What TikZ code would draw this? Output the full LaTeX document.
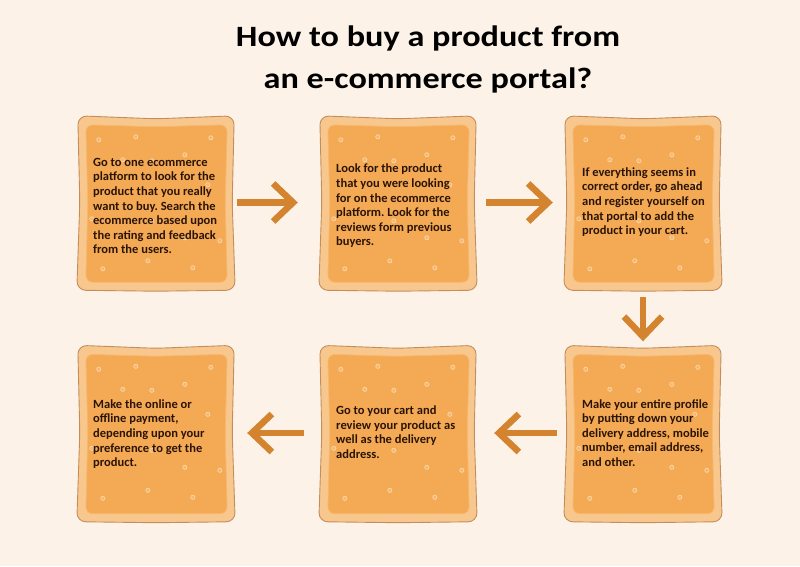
\documentclass[tikz,border=0pt]{standalone}
\usepackage{fontspec}
\setmainfont{Carlito}
\newfontfamily\titlefont[FakeStretch=1.16]{Carlito}
\newfontfamily\stepfont[FakeStretch=1.0]{Carlito}
\usetikzlibrary{arrows.meta,calc}
\definecolor{bg}{HTML}{FDF2E7}
\definecolor{crustfill}{HTML}{F8C78E}
\definecolor{crustdraw}{HTML}{C38E5C}
\definecolor{innerfill}{HTML}{F4A955}
\definecolor{innerrim}{HTML}{F7B86C}
\definecolor{bubblecol}{HTML}{FAD7A6}
\definecolor{arrowcol}{HTML}{D4832F}
\definecolor{txt}{HTML}{2A1405}
\tikzset{
  toastbox/.style={minimum width=158pt, minimum height=175pt, inner sep=0pt, draw=none},
  crust/.style={fill=crustfill, draw=crustdraw, line width=0.9pt, rounded corners=9pt},
  crumb/.style={fill=innerfill, draw=innerrim, line width=0.8pt, rounded corners=7pt},
  bubble/.style={draw=bubblecol, line width=0.7pt, fill=innerfill!85!white},
  steptext/.style={anchor=west, align=left, font=\stepfont\bfseries\fontsize{12.5}{14.6}\selectfont\frenchspacing, text=txt, inner sep=0pt},
  titletext/.style={align=center, font=\titlefont\bfseries\fontsize{29.5}{42}\selectfont, text=black, inner sep=0pt},
  flow/.style={draw=arrowcol, line width=6.5pt, -{Straight Barb[length=20pt,width=38pt]}},
}
\newcommand\toast[1]{%
  \path[crust] ([shift={(1,1)}]#1.north west) -- ([shift={(0,4)}]#1.north) -- ([shift={(-1,1)}]#1.north east)
     -- ([shift={(-3,0)}]#1.east) -- (#1.south east) -- ([shift={(0,1)}]#1.south) -- (#1.south west)
     -- ([shift={(3,0)}]#1.west) -- cycle;
  \path[crumb] ([shift={(9,10)}]#1.north west) -- ([shift={(0,12)}]#1.north) -- ([shift={(-8,10)}]#1.north east)
     -- ([shift={(-10,0)}]#1.east) -- ([shift={(-8,-8)}]#1.south east) -- ([shift={(0,-8)}]#1.south) -- ([shift={(9,-8)}]#1.south west)
     -- ([shift={(11,0)}]#1.west) -- cycle;
  \foreach \a/\b in {22/25,59/22,134/23,108/40,46/45,75/46,131/70,15/104,75/106,108/123,143/126,71/146,26/154,116/153}
    \draw[bubble] ([shift={(\a,\b)}]#1.north west) circle (2.1pt);
}
\begin{document}
\begin{tikzpicture}[x=1pt,y=-1pt]
\fill[bg] (0,0) rectangle (800,566);
\useasboundingbox (0,0) rectangle (800,566);

\node[titletext] (title) at (428,59) {How to buy a product from\\an e-commerce portal?};

\node[toastbox] (b1) at (156,202.5) {};
\node[toastbox] (b2) at (398,202.5) {};
\node[toastbox] (b3) at (643,202.5) {};
\node[toastbox, minimum height=177pt] (b4) at (643,433) {};
\node[toastbox, minimum height=177pt] (b5) at (398,433) {};
\node[toastbox, minimum height=177pt] (b6) at (156,433) {};

\toast{b1}\toast{b2}\toast{b3}\toast{b4}\toast{b5}\toast{b6}

\node[steptext] (t1) at (93,206) {Go to one ecommerce\\platform to look for the\\product that you really\\want to buy. Search the\\ecommerce based upon\\the rating and feedback\\from the users.};
\node[steptext] (t2) at (336,206) {Look for the product\\that you were looking\\for on the ecommerce\\platform. Look for the\\reviews form previous\\buyers.};
\node[steptext] (t3) at (582,202) {If everything seems in\\correct order, go ahead\\and register yourself on\\that portal to add the\\product in your cart.};
\node[steptext] (t4) at (582,433) {Make your entire profile\\by putting down your\\delivery address, mobile\\number, email address,\\and other.};
\node[steptext] (t5) at (336,432) {Go to your cart and\\review your product as\\well as the delivery\\address.};
\node[steptext] (t6) at (93,434) {Make the online or\\offline payment,\\depending upon your\\preference to get the\\product.};

\draw[flow, shorten <=2pt, shorten >=21pt] (b1) -- (b2);
\draw[flow, shorten <=9pt, shorten >=11pt] (b2) -- (b3);
\draw[flow, shorten <=7pt, shorten >=3pt] (b3) -- (b4);
\draw[flow, shorten <=7pt, shorten >=17pt] (b4) -- (b5);
\draw[flow, shorten <=15pt, shorten >=12pt] (b5) -- (b6);
\end{tikzpicture}
\end{document}
